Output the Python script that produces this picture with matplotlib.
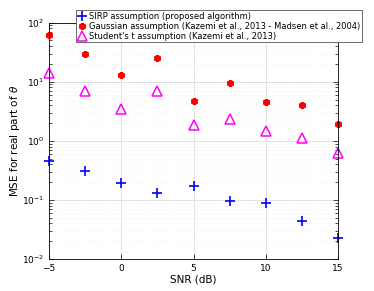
import matplotlib
matplotlib.use('Agg')
import matplotlib.pyplot as plt

# SNR values (dB)
snr = [-5, -2.5, 0, 2.5, 5, 7.5, 10, 12.5, 15]

# MSE
mse_sirp = [0.46, 0.31, 0.197, 0.131, 0.169, 0.096, 0.089, 0.044, 0.0224]
mse_gauss = [62, 29, 13, 25.5, 4.8, 9.6, 4.6, 4.0, 1.95]
mse_student = [14.2, 7.0, 3.4, 7.0, 1.82, 2.3, 1.46, 1.1, 0.63]

labels = ['SIRP assumption (proposed algorithm)',
          'Gaussian assumption (Kazemi et al., 2013 - Madsen et al., 2004)',
          "Student's t assumption (Kazemi et al., 2013)"]

fig = plt.figure(figsize=(3.74, 2.91), dpi=100)
ax = fig.add_axes([0.131, 0.110, 0.773, 0.812])

ax.semilogy(snr, mse_sirp, '+', color='blue', ms=6.5, mew=1.2, label=labels[0], ls='none', clip_on=False)
ax.semilogy(snr, mse_gauss, marker=(6, 2, 0), color='red', ms=5, mew=1.8, label=labels[1], ls='none', clip_on=False)
ax.semilogy(snr, mse_student, '^', mfc='none', mec='magenta', ms=6.5, mew=1.1, label=labels[2], ls='none', clip_on=False)

ax.set_xlim(-5, 15)
ax.set_ylim(1e-2, 1e2)
ax.set_xticks([-5, 0, 5, 10, 15])
ax.grid(True, which='major', color='#dddddd', lw=0.6)
ax.grid(True, which='minor', axis='y', color='#eeeeee', lw=0.5, ls=':')
ax.tick_params(which='both', direction='in', labelsize=6.5, top=True, right=True, width=0.5)
for s in ax.spines.values():
    s.set_linewidth(0.6)

ax.set_xlabel('SNR (dB)', fontsize=7.5, labelpad=1)
ax.set_ylabel(r'MSE for real part of $\theta$', fontsize=7.5, labelpad=0)

leg = ax.legend(loc='upper left', bbox_to_anchor=(0.203, 0.966), bbox_transform=fig.transFigure,
                fontsize=6.0, handlelength=1.0, handletextpad=0.4, borderpad=0.2,
                labelspacing=0.12, borderaxespad=0, fancybox=False, framealpha=1,
                edgecolor='#555555')
leg.get_frame().set_linewidth(0.6)

fig.savefig('out.png', dpi=100)
